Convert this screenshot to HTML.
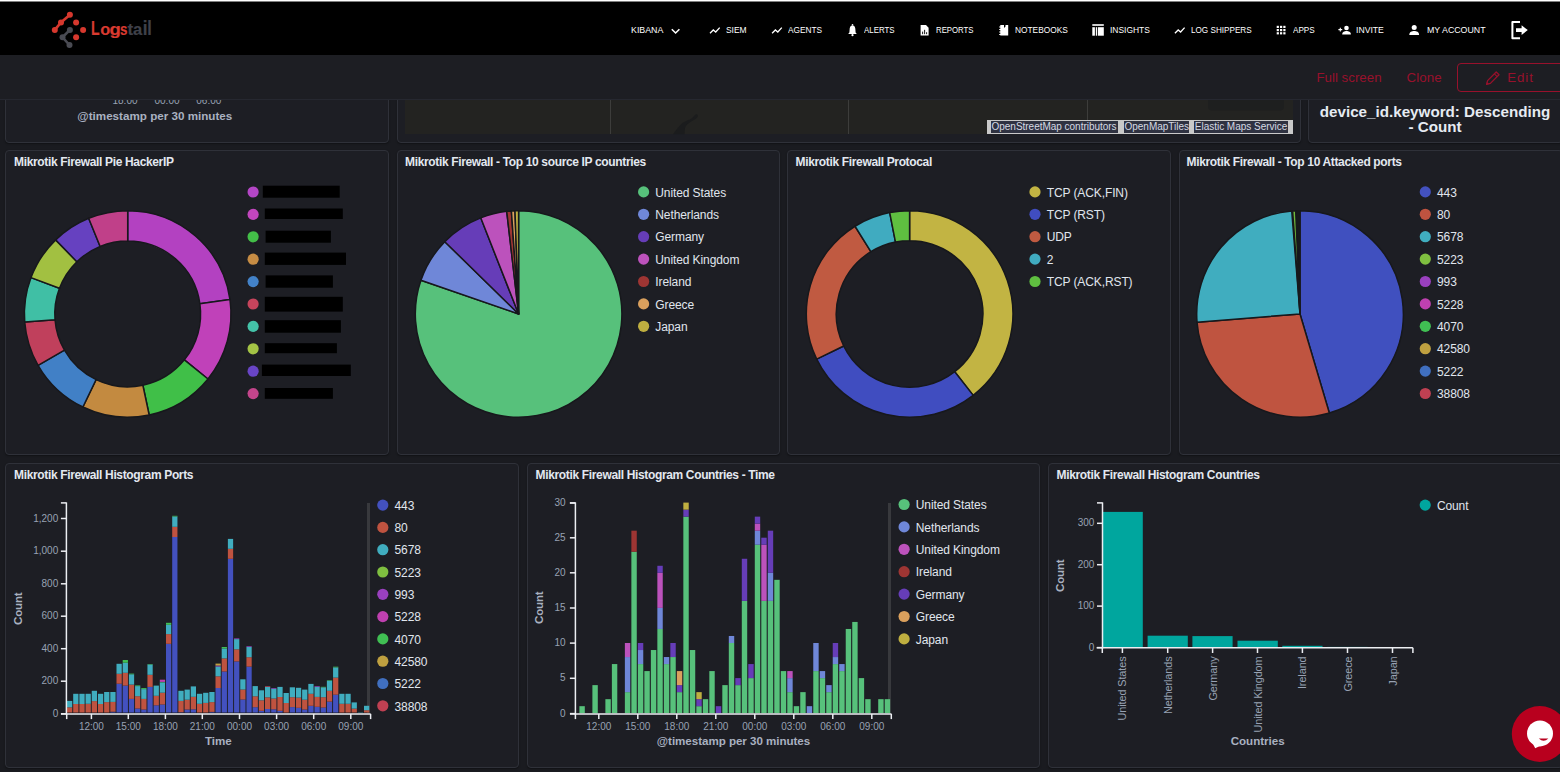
<!DOCTYPE html><html><head><meta charset="utf-8"><style>
html,body{margin:0;padding:0;}
body{width:1560px;height:772px;overflow:hidden;position:relative;background:#1a1b20;font-family:"Liberation Sans", sans-serif;}
.t{position:absolute;white-space:nowrap;}
.p{position:absolute;box-sizing:border-box;border:1px solid #2f3139;border-radius:4px;background:#1d1e24;box-shadow:0 1px 1.5px rgba(0,0,0,0.35);}
svg{position:absolute;left:0;top:0;}
</style></head><body>
<div class="p" style="left:5px;top:20px;width:384px;height:123px"></div>
<div class="p" style="left:397px;top:20px;width:904px;height:123px"></div>
<div class="p" style="left:1308px;top:20px;width:255px;height:123px"></div>
<div class="p" style="left:5px;top:150px;width:384px;height:305px"></div>
<div class="p" style="left:397px;top:150px;width:383px;height:305px"></div>
<div class="p" style="left:787px;top:150px;width:384px;height:305px"></div>
<div class="p" style="left:1179px;top:150px;width:384px;height:305px"></div>
<div class="p" style="left:5px;top:463px;width:514px;height:305px"></div>
<div class="p" style="left:527px;top:463px;width:513px;height:305px"></div>
<div class="p" style="left:1048px;top:463px;width:515px;height:305px"></div>
<div style="position:absolute;left:405px;top:95px;width:888px;height:39px;background:#232321;"></div>
<svg width="1560" height="772" style="pointer-events:none">
<line x1="610.5" y1="95" x2="610.5" y2="134" stroke="#3d3d3b" stroke-width="1"/>
<line x1="848.5" y1="95" x2="848.5" y2="134" stroke="#3d3d3b" stroke-width="1"/>
<line x1="1087.5" y1="95" x2="1087.5" y2="134" stroke="#3d3d3b" stroke-width="1"/>
<path d="M673 134.3 C676 130 679 126 682 123.5 C684 121.5 687 120.5 690 119.5 C692 118.5 694 116 695.5 114.5 C697.5 113.5 698.5 115.5 697.5 117 C696 119 693 120.5 690.5 122 C688 123.5 686 125 685 128 L684.5 134.3 Z" fill="#1b1c1d"/>
<rect x="1208" y="95" width="76" height="15.5" rx="4" fill="#1e1f1f"/>
</svg>
<div style="position:absolute;left:987px;top:119.5px;width:306px;height:14.5px;background:#c9c9c9;"></div>
<div style="position:absolute;left:991px;top:121.2px;width:127.0px;height:11.5px;background:#2f3241;"></div>
<div class="t" style="left:991.50px;top:122.13px;font-size:10px;line-height:10px;font-weight:400;color:#d5d9e3;letter-spacing:-0.02px;">OpenStreetMap contributors</div>
<div style="position:absolute;left:1124px;top:121.2px;width:65.0px;height:11.5px;background:#2f3241;"></div>
<div class="t" style="left:1124.50px;top:122.13px;font-size:10px;line-height:10px;font-weight:400;color:#d5d9e3;letter-spacing:-0.02px;">OpenMapTiles</div>
<div style="position:absolute;left:1194.3px;top:121.2px;width:93.7px;height:11.5px;background:#2f3241;"></div>
<div class="t" style="left:1194.80px;top:122.13px;font-size:10px;line-height:10px;font-weight:400;color:#d5d9e3;letter-spacing:-0.02px;">Elastic Maps Service</div>
<div class="t" style="left:-175.00px;width:600px;text-align:center;top:95.73px;font-size:10px;line-height:10px;font-weight:400;color:#98a2b3;letter-spacing:0px;">18:00</div>
<div class="t" style="left:-133.00px;width:600px;text-align:center;top:95.73px;font-size:10px;line-height:10px;font-weight:400;color:#98a2b3;letter-spacing:0px;">00:00</div>
<div class="t" style="left:-91.20px;width:600px;text-align:center;top:95.73px;font-size:10px;line-height:10px;font-weight:400;color:#98a2b3;letter-spacing:0px;">06:00</div>
<div class="t" style="left:-145.20px;width:600px;text-align:center;top:110.44px;font-size:11.65px;line-height:11.65px;font-weight:700;color:#a9b1c0;letter-spacing:0px;">@timestamp per 30 minutes</div>
<div class="t" style="left:1135.00px;width:600px;text-align:center;top:104.33px;font-size:15.2px;line-height:15.2px;font-weight:700;color:#e6ebf2;letter-spacing:0px;">device_id.keyword: Descending</div>
<div class="t" style="left:1135.00px;width:600px;text-align:center;top:118.53px;font-size:15.2px;line-height:15.2px;font-weight:700;color:#e6ebf2;letter-spacing:0px;">- Count</div>
<div style="position:absolute;left:0;top:0;width:1560px;height:55px;background:#000;"></div>
<div style="position:absolute;left:0;top:0;width:1560px;height:1px;background:#fff;"></div>
<div style="position:absolute;left:0;top:1px;width:1560px;height:1px;background:#808080;"></div>
<div style="position:absolute;left:0;top:55px;width:1560px;height:44px;background:#1d1e23;border-bottom:1.5px solid #262830;"></div>
<svg width="1560" height="60">
<path d="M69.9 14.8 L61 22.5 L54.8 29.9" stroke="#d6382e" stroke-width="2.6" fill="none" stroke-linecap="round"/>
<path d="M69.9 29.9 L62.5 37.3 L69.5 45" stroke="#4a4b53" stroke-width="2.6" fill="none" stroke-linecap="round"/>
<circle cx="69.9" cy="14.8" r="3.0" fill="#d6382e"/>
<circle cx="61" cy="22.5" r="3.0" fill="#d6382e"/>
<circle cx="54.8" cy="29.9" r="3.0" fill="#d6382e"/>
<circle cx="76.1" cy="22.5" r="3.0" fill="#d6382e"/>
<circle cx="83.1" cy="29.9" r="3.0" fill="#d6382e"/>
<circle cx="76.1" cy="37.3" r="3.0" fill="#d6382e"/>
<circle cx="69.9" cy="29.9" r="3.0" fill="#4a4b53"/>
<circle cx="62.5" cy="37.3" r="3.0" fill="#4a4b53"/>
<circle cx="69.5" cy="45" r="3.0" fill="#4a4b53"/>
<text transform="translate(90.97,35) scale(0.76,1.05)" font-family="Liberation Sans" font-weight="700" font-size="18.5" fill="#d93a30" stroke="#d93a30" stroke-width="0.2">L</text>
<text transform="translate(100.27,35) scale(0.88,0.855)" font-family="Liberation Sans" font-weight="700" font-size="18.5" fill="#d93a30" stroke="#d93a30" stroke-width="0.2">o</text>
<text transform="translate(109.58,35) scale(1.0,0.93)" font-family="Liberation Sans" font-weight="700" font-size="18.5" fill="#d93a30" stroke="#d93a30" stroke-width="0.2">g</text>
<text transform="translate(120.08,35) scale(0.72,0.855)" font-family="Liberation Sans" font-weight="700" font-size="18.5" fill="#d93a30" stroke="#d93a30" stroke-width="0.2">s</text>
<text transform="translate(127.52,35) scale(0.92,0.925)" font-family="Liberation Sans" font-weight="700" font-size="18.5" fill="#3f414a" stroke="#3f414a" stroke-width="0.2">t</text>
<text transform="translate(133.04,35) scale(0.9,0.855)" font-family="Liberation Sans" font-weight="700" font-size="18.5" fill="#3f414a" stroke="#3f414a" stroke-width="0.2">a</text>
<text transform="translate(142.75,35) scale(0.93,1.05)" font-family="Liberation Sans" font-weight="700" font-size="18.5" fill="#3f414a" stroke="#3f414a" stroke-width="0.2">i</text>
<text transform="translate(147.21,35) scale(0.89,1.05)" font-family="Liberation Sans" font-weight="700" font-size="18.5" fill="#3f414a" stroke="#3f414a" stroke-width="0.2">l</text>
</svg>
<div class="t" style="left:630.90px;top:25.78px;font-size:9px;line-height:9px;font-weight:400;color:#ffffff;letter-spacing:0px;transform:scaleX(0.9788);transform-origin:0 0;">KIBANA</div>
<div class="t" style="left:726.10px;top:25.78px;font-size:9px;line-height:9px;font-weight:400;color:#ffffff;letter-spacing:0px;transform:scaleX(0.9364);transform-origin:0 0;">SIEM</div>
<div class="t" style="left:788.10px;top:25.78px;font-size:9px;line-height:9px;font-weight:400;color:#ffffff;letter-spacing:0px;transform:scaleX(0.9216);transform-origin:0 0;">AGENTS</div>
<div class="t" style="left:863.70px;top:25.78px;font-size:9px;line-height:9px;font-weight:400;color:#ffffff;letter-spacing:0px;transform:scaleX(0.8768);transform-origin:0 0;">ALERTS</div>
<div class="t" style="left:935.80px;top:25.78px;font-size:9px;line-height:9px;font-weight:400;color:#ffffff;letter-spacing:0px;transform:scaleX(0.8661);transform-origin:0 0;">REPORTS</div>
<div class="t" style="left:1014.90px;top:25.78px;font-size:9px;line-height:9px;font-weight:400;color:#ffffff;letter-spacing:0px;transform:scaleX(0.9263);transform-origin:0 0;">NOTEBOOKS</div>
<div class="t" style="left:1109.70px;top:25.78px;font-size:9px;line-height:9px;font-weight:400;color:#ffffff;letter-spacing:0px;transform:scaleX(0.9365);transform-origin:0 0;">INSIGHTS</div>
<div class="t" style="left:1190.90px;top:25.78px;font-size:9px;line-height:9px;font-weight:400;color:#ffffff;letter-spacing:0px;transform:scaleX(0.9045);transform-origin:0 0;">LOG SHIPPERS</div>
<div class="t" style="left:1292.60px;top:25.78px;font-size:9px;line-height:9px;font-weight:400;color:#ffffff;letter-spacing:0px;transform:scaleX(0.9042);transform-origin:0 0;">APPS</div>
<div class="t" style="left:1355.70px;top:25.78px;font-size:9px;line-height:9px;font-weight:400;color:#ffffff;letter-spacing:0px;transform:scaleX(0.9586);transform-origin:0 0;">INVITE</div>
<div class="t" style="left:1426.70px;top:25.78px;font-size:9px;line-height:9px;font-weight:400;color:#ffffff;letter-spacing:0px;transform:scaleX(0.9783);transform-origin:0 0;">MY ACCOUNT</div>
<svg width="1560" height="60">
<polyline points="671.8,29.3 675.6,33 679.4,29.3" stroke="#ffffff" stroke-width="1.6" fill="none"/>
<polyline points="710.0,33.3 713.3000000000001,30 715.7,32 719.7,27.6" stroke="#ffffff" stroke-width="1.3" fill="none" stroke-linejoin="miter"/>
<polyline points="772.0999999999999,33.3 775.4,30 777.8,32 781.8,27.6" stroke="#ffffff" stroke-width="1.3" fill="none" stroke-linejoin="miter"/>
<polyline points="1174.8999999999999,33.3 1178.1999999999998,30 1180.6,32 1184.6,27.6" stroke="#ffffff" stroke-width="1.3" fill="none" stroke-linejoin="miter"/>
<path d="M852.5 25.3 C850.3 25.5 849.6 27.6 849.6 29.8 L849.4 32.6 L848.2 34 L856.8 34 L855.6 32.6 L855.4 29.8 C855.4 27.6 854.7 25.5 852.5 25.3 Z" fill="#ffffff"/>
<circle cx="852.5" cy="35.2" r="1.1" fill="#ffffff"/>
<circle cx="852.5" cy="24.8" r="0.8" fill="#ffffff"/>
<path d="M920.6 25 L926 25 L928.6 27.8 L928.6 35.6 L920.6 35.6 Z" fill="#ffffff"/>
<rect x="922.2" y="31.6" width="0.9" height="2.6" fill="#000"/><rect x="924.2" y="29.8" width="0.9" height="4.4" fill="#000"/><rect x="926.2" y="32.2" width="0.9" height="2" fill="#000"/>
<path d="M1000.3 25 L1004 25 L1004 28 L1005.5 26.5 L1005.5 25 L1008.2 25 L1008.2 35.6 L1000.3 35.6 Z" fill="#ffffff"/>
<rect x="999.2" y="26.5" width="2" height="1" fill="#ffffff"/>
<rect x="999.2" y="29" width="2" height="1" fill="#ffffff"/>
<rect x="999.2" y="31.5" width="2" height="1" fill="#ffffff"/>
<rect x="999.2" y="34" width="2" height="1" fill="#ffffff"/>
<rect x="1092.3" y="24.2" width="11.5" height="1.6" fill="#ffffff"/>
<rect x="1092.3" y="27.2" width="2.6" height="8.5" fill="#ffffff"/>
<rect x="1095.8" y="27.2" width="1.2" height="8.5" fill="#ffffff"/>
<rect x="1097.8" y="27.2" width="6" height="8.5" fill="#ffffff"/>
<rect x="1276.70" y="25.80" width="2.2" height="2.2" fill="#ffffff"/>
<rect x="1276.70" y="29.00" width="2.2" height="2.2" fill="#ffffff"/>
<rect x="1276.70" y="32.20" width="2.2" height="2.2" fill="#ffffff"/>
<rect x="1280.00" y="25.80" width="2.2" height="2.2" fill="#ffffff"/>
<rect x="1280.00" y="29.00" width="2.2" height="2.2" fill="#ffffff"/>
<rect x="1280.00" y="32.20" width="2.2" height="2.2" fill="#ffffff"/>
<rect x="1283.30" y="25.80" width="2.2" height="2.2" fill="#ffffff"/>
<rect x="1283.30" y="29.00" width="2.2" height="2.2" fill="#ffffff"/>
<rect x="1283.30" y="32.20" width="2.2" height="2.2" fill="#ffffff"/>
<path d="M1338.4 29.6 H1342.2 M1340.3 27.7 V31.5" stroke="#ffffff" stroke-width="1.1"/>
<circle cx="1346.5" cy="28" r="2.3" fill="#ffffff"/>
<path d="M1342.2 34.4 C1342.2 31.8 1344.5 31 1346.5 31 C1348.5 31 1350.9 31.8 1350.9 34.4 Z" fill="#ffffff"/>
<circle cx="1414.2" cy="27.6" r="2.5" fill="#ffffff"/>
<path d="M1409.3 34.9 C1409.3 31.9 1411.9 31 1414.2 31 C1416.5 31 1419.1 31.9 1419.1 34.9 Z" fill="#ffffff"/>
<path d="M1520 22 L1512.4 22 L1512.4 38.2 L1520 38.2" stroke="#ffffff" stroke-width="2" fill="none" stroke-linejoin="round"/>
<path d="M1516 28.3 L1521.6 28.3 L1521.6 25.3 L1527.8 30.1 L1521.6 34.9 L1521.6 31.9 L1516 31.9 Z" fill="#ffffff"/>
</svg>
<div class="t" style="left:1316.50px;top:71.34px;font-size:13.3px;line-height:13.3px;font-weight:400;color:#98112c;letter-spacing:0px;">Full screen</div>
<div class="t" style="left:1406.50px;top:71.34px;font-size:13.3px;line-height:13.3px;font-weight:400;color:#98112c;letter-spacing:0.1px;">Clone</div>
<div style="position:absolute;left:1457px;top:62.5px;width:130px;height:29px;box-sizing:border-box;border:1px solid #98112c;border-radius:4px;"></div>
<div class="t" style="left:1507.30px;top:71.34px;font-size:13.3px;line-height:13.3px;font-weight:400;color:#98112c;letter-spacing:0.9px;">Edit</div>
<svg width="1560" height="100">
<path d="M1487.6 80.6 L1496.2 72 L1499 74.8 L1490.4 83.4 L1486.6 84.4 Z" stroke="#98112c" stroke-width="1.3" fill="none" stroke-linejoin="round"/>
<line x1="1494.4" y1="73.8" x2="1497.2" y2="76.6" stroke="#98112c" stroke-width="1.1"/>
<path d="M1486.2 84.8 L1486.9 82 L1489 84.1 Z" fill="#98112c"/>
</svg>
<div class="t" style="left:14.00px;top:155.74px;font-size:12px;line-height:12px;font-weight:700;color:#e3e8f0;letter-spacing:-0.35px;">Mikrotik Firewall Pie HackerIP</div>
<div class="t" style="left:405.00px;top:155.74px;font-size:12px;line-height:12px;font-weight:700;color:#e3e8f0;letter-spacing:-0.35px;">Mikrotik Firewall - Top 10 source IP countries</div>
<div class="t" style="left:795.60px;top:155.74px;font-size:12px;line-height:12px;font-weight:700;color:#e3e8f0;letter-spacing:-0.35px;">Mikrotik Firewall Protocal</div>
<div class="t" style="left:1186.60px;top:155.74px;font-size:12px;line-height:12px;font-weight:700;color:#e3e8f0;letter-spacing:-0.35px;">Mikrotik Firewall - Top 10 Attacked ports</div>
<div class="t" style="left:14.00px;top:468.54px;font-size:12px;line-height:12px;font-weight:700;color:#e3e8f0;letter-spacing:-0.35px;">Mikrotik Firewall Histogram Ports</div>
<div class="t" style="left:535.60px;top:468.54px;font-size:12px;line-height:12px;font-weight:700;color:#e3e8f0;letter-spacing:-0.35px;">Mikrotik Firewall Histogram Countries - Time</div>
<div class="t" style="left:1056.60px;top:468.54px;font-size:12px;line-height:12px;font-weight:700;color:#e3e8f0;letter-spacing:-0.35px;">Mikrotik Firewall Histogram Countries</div>
<svg width="1560" height="772">
<path d="M127.70 241.05 L127.70 210.65 A103.3 103.3 0 0 1 229.99 299.57 L199.89 303.80 A72.9 72.9 0 0 0 127.70 241.05 Z" fill="#b341c1" stroke="#17181c" stroke-width="1.5" stroke-linejoin="round"/>
<path d="M199.89 303.80 L229.99 299.57 A103.3 103.3 0 0 1 207.98 378.96 L184.35 359.83 A72.9 72.9 0 0 0 199.89 303.80 Z" fill="#c041b9" stroke="#17181c" stroke-width="1.5" stroke-linejoin="round"/>
<path d="M184.35 359.83 L207.98 378.96 A103.3 103.3 0 0 1 149.18 414.99 L142.86 385.26 A72.9 72.9 0 0 0 184.35 359.83 Z" fill="#40bf48" stroke="#17181c" stroke-width="1.5" stroke-linejoin="round"/>
<path d="M142.86 385.26 L149.18 414.99 A103.3 103.3 0 0 1 82.90 407.03 L96.09 379.64 A72.9 72.9 0 0 0 142.86 385.26 Z" fill="#c38a40" stroke="#17181c" stroke-width="1.5" stroke-linejoin="round"/>
<path d="M96.09 379.64 L82.90 407.03 A103.3 103.3 0 0 1 38.06 365.29 L64.44 350.18 A72.9 72.9 0 0 0 96.09 379.64 Z" fill="#4180c6" stroke="#17181c" stroke-width="1.5" stroke-linejoin="round"/>
<path d="M64.44 350.18 L38.06 365.29 A103.3 103.3 0 0 1 24.72 322.05 L55.02 319.67 A72.9 72.9 0 0 0 64.44 350.18 Z" fill="#c0405c" stroke="#17181c" stroke-width="1.5" stroke-linejoin="round"/>
<path d="M55.02 319.67 L24.72 322.05 A103.3 103.3 0 0 1 31.01 277.60 L59.46 288.30 A72.9 72.9 0 0 0 55.02 319.67 Z" fill="#40bfa5" stroke="#17181c" stroke-width="1.5" stroke-linejoin="round"/>
<path d="M59.46 288.30 L31.01 277.60 A103.3 103.3 0 0 1 55.68 239.89 L76.88 261.69 A72.9 72.9 0 0 0 59.46 288.30 Z" fill="#a2c041" stroke="#17181c" stroke-width="1.5" stroke-linejoin="round"/>
<path d="M76.88 261.69 L55.68 239.89 A103.3 103.3 0 0 1 88.67 218.31 L100.16 246.45 A72.9 72.9 0 0 0 76.88 261.69 Z" fill="#6641c0" stroke="#17181c" stroke-width="1.5" stroke-linejoin="round"/>
<path d="M100.16 246.45 L88.67 218.31 A103.3 103.3 0 0 1 127.70 210.65 L127.70 241.05 A72.9 72.9 0 0 0 100.16 246.45 Z" fill="#c04089" stroke="#17181c" stroke-width="1.5" stroke-linejoin="round"/>
</svg>
<svg width="1560" height="772">
<circle cx="253.1" cy="192.00" r="5.6" fill="#b446c6"/>
<circle cx="253.1" cy="214.40" r="5.6" fill="#c246be"/>
<circle cx="253.1" cy="236.80" r="5.6" fill="#43be48"/>
<circle cx="253.1" cy="259.20" r="5.6" fill="#c68c44"/>
<circle cx="253.1" cy="281.60" r="5.6" fill="#4382c8"/>
<circle cx="253.1" cy="304.00" r="5.6" fill="#c6445c"/>
<circle cx="253.1" cy="326.40" r="5.6" fill="#44c3a9"/>
<circle cx="253.1" cy="348.80" r="5.6" fill="#a3c345"/>
<circle cx="253.1" cy="371.20" r="5.6" fill="#6945c6"/>
<circle cx="253.1" cy="393.60" r="5.6" fill="#c4458c"/>
</svg>
<svg width="1560" height="772">
<rect x="262.8" y="185.7" width="76.9" height="12.0" fill="#000"/>
<rect x="264.8" y="208.5" width="78.0" height="10.5" fill="#000"/>
<rect x="265.6" y="230.7" width="65.3" height="12.0" fill="#000"/>
<rect x="264.8" y="252.6" width="81.2" height="12.3" fill="#000"/>
<rect x="265.6" y="275.4" width="67.3" height="12.3" fill="#000"/>
<rect x="264.8" y="296.8" width="78.0" height="14.8" fill="#000"/>
<rect x="264.8" y="320.2" width="76.1" height="12.5" fill="#000"/>
<rect x="264.8" y="343.2" width="72.1" height="10.0" fill="#000"/>
<rect x="261.9" y="364.6" width="88.9" height="11.4" fill="#000"/>
<rect x="264.8" y="388" width="68.1" height="10.8" fill="#000"/>
</svg>
<svg width="1560" height="772">
<path d="M518.60 313.95 L518.60 210.65 A103.3 103.3 0 1 1 420.93 280.32 Z" fill="#57c17b" stroke="#17181c" stroke-width="1.5" stroke-linejoin="round"/>
<path d="M518.60 313.95 L420.93 280.32 A103.3 103.3 0 0 1 444.79 241.67 Z" fill="#6f87d8" stroke="#17181c" stroke-width="1.5" stroke-linejoin="round"/>
<path d="M518.60 313.95 L444.79 241.67 A103.3 103.3 0 0 1 480.74 217.84 Z" fill="#663db8" stroke="#17181c" stroke-width="1.5" stroke-linejoin="round"/>
<path d="M518.60 313.95 L480.74 217.84 A103.3 103.3 0 0 1 506.73 211.33 Z" fill="#bc52bc" stroke="#17181c" stroke-width="1.5" stroke-linejoin="round"/>
<path d="M518.60 313.95 L506.73 211.33 A103.3 103.3 0 0 1 511.39 210.90 Z" fill="#9e3533" stroke="#17181c" stroke-width="1.5" stroke-linejoin="round"/>
<path d="M518.60 313.95 L511.39 210.90 A103.3 103.3 0 0 1 514.99 210.71 Z" fill="#daa05d" stroke="#17181c" stroke-width="1.5" stroke-linejoin="round"/>
<path d="M518.60 313.95 L514.99 210.71 A103.3 103.3 0 0 1 518.60 210.65 Z" fill="#bfaf40" stroke="#17181c" stroke-width="1.5" stroke-linejoin="round"/>
</svg>
<svg width="1560" height="772">
<circle cx="643.6" cy="191.90" r="5.6" fill="#57c17b"/>
<circle cx="643.6" cy="214.30" r="5.6" fill="#6f87d8"/>
<circle cx="643.6" cy="236.70" r="5.6" fill="#663db8"/>
<circle cx="643.6" cy="259.10" r="5.6" fill="#bc52bc"/>
<circle cx="643.6" cy="281.50" r="5.6" fill="#9e3533"/>
<circle cx="643.6" cy="303.90" r="5.6" fill="#daa05d"/>
<circle cx="643.6" cy="326.30" r="5.6" fill="#bfaf40"/>
</svg>
<div class="t" style="left:655.30px;top:186.64px;font-size:12px;line-height:12px;font-weight:400;color:#e0e6ee;letter-spacing:-0.1px;">United States</div>
<div class="t" style="left:655.30px;top:209.04px;font-size:12px;line-height:12px;font-weight:400;color:#e0e6ee;letter-spacing:-0.1px;">Netherlands</div>
<div class="t" style="left:655.30px;top:231.44px;font-size:12px;line-height:12px;font-weight:400;color:#e0e6ee;letter-spacing:-0.1px;">Germany</div>
<div class="t" style="left:655.30px;top:253.84px;font-size:12px;line-height:12px;font-weight:400;color:#e0e6ee;letter-spacing:-0.1px;">United Kingdom</div>
<div class="t" style="left:655.30px;top:276.24px;font-size:12px;line-height:12px;font-weight:400;color:#e0e6ee;letter-spacing:-0.1px;">Ireland</div>
<div class="t" style="left:655.30px;top:298.64px;font-size:12px;line-height:12px;font-weight:400;color:#e0e6ee;letter-spacing:-0.1px;">Greece</div>
<div class="t" style="left:655.30px;top:321.04px;font-size:12px;line-height:12px;font-weight:400;color:#e0e6ee;letter-spacing:-0.1px;">Japan</div>
<svg width="1560" height="772">
<path d="M909.60 240.65 L909.60 210.65 A103.3 103.3 0 0 1 973.20 395.35 L954.73 371.71 A73.3 73.3 0 0 0 909.60 240.65 Z" fill="#c2b443" stroke="#17181c" stroke-width="1.5" stroke-linejoin="round"/>
<path d="M954.73 371.71 L973.20 395.35 A103.3 103.3 0 0 1 816.68 359.07 L843.66 345.97 A73.3 73.3 0 0 0 954.73 371.71 Z" fill="#404dc0" stroke="#17181c" stroke-width="1.5" stroke-linejoin="round"/>
<path d="M843.66 345.97 L816.68 359.07 A103.3 103.3 0 0 1 855.01 226.25 L870.87 251.72 A73.3 73.3 0 0 0 843.66 345.97 Z" fill="#c05a41" stroke="#17181c" stroke-width="1.5" stroke-linejoin="round"/>
<path d="M870.87 251.72 L855.01 226.25 A103.3 103.3 0 0 1 889.71 212.58 L895.49 242.02 A73.3 73.3 0 0 0 870.87 251.72 Z" fill="#40abc0" stroke="#17181c" stroke-width="1.5" stroke-linejoin="round"/>
<path d="M895.49 242.02 L889.71 212.58 A103.3 103.3 0 0 1 909.60 210.65 L909.60 240.65 A73.3 73.3 0 0 0 895.49 242.02 Z" fill="#5fbf40" stroke="#17181c" stroke-width="1.5" stroke-linejoin="round"/>
</svg>
<svg width="1560" height="772">
<circle cx="1035" cy="191.90" r="5.6" fill="#c2b443"/>
<circle cx="1035" cy="214.30" r="5.6" fill="#404dc0"/>
<circle cx="1035" cy="236.70" r="5.6" fill="#c05a41"/>
<circle cx="1035" cy="259.10" r="5.6" fill="#40abc0"/>
<circle cx="1035" cy="281.50" r="5.6" fill="#5fbf40"/>
</svg>
<div class="t" style="left:1046.70px;top:186.64px;font-size:12px;line-height:12px;font-weight:400;color:#e0e6ee;letter-spacing:-0.1px;">TCP (ACK,FIN)</div>
<div class="t" style="left:1046.70px;top:209.04px;font-size:12px;line-height:12px;font-weight:400;color:#e0e6ee;letter-spacing:-0.1px;">TCP (RST)</div>
<div class="t" style="left:1046.70px;top:231.44px;font-size:12px;line-height:12px;font-weight:400;color:#e0e6ee;letter-spacing:-0.1px;">UDP</div>
<div class="t" style="left:1046.70px;top:253.84px;font-size:12px;line-height:12px;font-weight:400;color:#e0e6ee;letter-spacing:-0.1px;">2</div>
<div class="t" style="left:1046.70px;top:276.24px;font-size:12px;line-height:12px;font-weight:400;color:#e0e6ee;letter-spacing:-0.1px;">TCP (ACK,RST)</div>
<svg width="1560" height="772">
<path d="M1300.00 313.95 L1300.00 210.65 A103.3 103.3 0 0 1 1329.34 413.00 Z" fill="#4050bf" stroke="#17181c" stroke-width="1.5" stroke-linejoin="round"/>
<path d="M1300.00 313.95 L1329.34 413.00 A103.3 103.3 0 0 1 1197.03 322.23 Z" fill="#bf5440" stroke="#17181c" stroke-width="1.5" stroke-linejoin="round"/>
<path d="M1300.00 313.95 L1197.03 322.23 A103.3 103.3 0 0 1 1291.72 210.98 Z" fill="#40adbf" stroke="#17181c" stroke-width="1.5" stroke-linejoin="round"/>
<path d="M1300.00 313.95 L1295.13 210.76 A103.3 103.3 0 0 1 1300.00 210.65 Z" fill="#17181c" stroke="#17181c" stroke-width="1.5" stroke-linejoin="round"/>
<path d="M1300.00 313.95 L1292.61 210.91 A103.3 103.3 0 0 1 1295.67 210.74 Z" fill="#6fb83c" stroke="#17181c" stroke-width="1.5" stroke-linejoin="round"/>
</svg>
<svg width="1560" height="772">
<circle cx="1425.3" cy="191.90" r="5.6" fill="#4351bf"/>
<circle cx="1425.3" cy="214.30" r="5.6" fill="#bf5340"/>
<circle cx="1425.3" cy="236.70" r="5.6" fill="#40adbf"/>
<circle cx="1425.3" cy="259.10" r="5.6" fill="#7fbf40"/>
<circle cx="1425.3" cy="281.50" r="5.6" fill="#9a40bf"/>
<circle cx="1425.3" cy="303.90" r="5.6" fill="#bf40b0"/>
<circle cx="1425.3" cy="326.30" r="5.6" fill="#40bf53"/>
<circle cx="1425.3" cy="348.70" r="5.6" fill="#bfa040"/>
<circle cx="1425.3" cy="371.10" r="5.6" fill="#406fbf"/>
<circle cx="1425.3" cy="393.50" r="5.6" fill="#bf4052"/>
</svg>
<div class="t" style="left:1437.00px;top:186.64px;font-size:12px;line-height:12px;font-weight:400;color:#e0e6ee;letter-spacing:-0.1px;">443</div>
<div class="t" style="left:1437.00px;top:209.04px;font-size:12px;line-height:12px;font-weight:400;color:#e0e6ee;letter-spacing:-0.1px;">80</div>
<div class="t" style="left:1437.00px;top:231.44px;font-size:12px;line-height:12px;font-weight:400;color:#e0e6ee;letter-spacing:-0.1px;">5678</div>
<div class="t" style="left:1437.00px;top:253.84px;font-size:12px;line-height:12px;font-weight:400;color:#e0e6ee;letter-spacing:-0.1px;">5223</div>
<div class="t" style="left:1437.00px;top:276.24px;font-size:12px;line-height:12px;font-weight:400;color:#e0e6ee;letter-spacing:-0.1px;">993</div>
<div class="t" style="left:1437.00px;top:298.64px;font-size:12px;line-height:12px;font-weight:400;color:#e0e6ee;letter-spacing:-0.1px;">5228</div>
<div class="t" style="left:1437.00px;top:321.04px;font-size:12px;line-height:12px;font-weight:400;color:#e0e6ee;letter-spacing:-0.1px;">4070</div>
<div class="t" style="left:1437.00px;top:343.44px;font-size:12px;line-height:12px;font-weight:400;color:#e0e6ee;letter-spacing:-0.1px;">42580</div>
<div class="t" style="left:1437.00px;top:365.84px;font-size:12px;line-height:12px;font-weight:400;color:#e0e6ee;letter-spacing:-0.1px;">5222</div>
<div class="t" style="left:1437.00px;top:388.24px;font-size:12px;line-height:12px;font-weight:400;color:#e0e6ee;letter-spacing:-0.1px;">38808</div>
<div style="position:absolute;left:366.6px;top:502.8px;width:3.3px;height:210.5px;background:#38393d;"></div>
<svg width="1560" height="772">
<rect x="67.00" y="707.30" width="5.25" height="5.20" fill="#bf5340"/>
<rect x="67.00" y="700.90" width="5.25" height="6.40" fill="#40adbf"/>
<rect x="73.19" y="704.00" width="5.25" height="8.50" fill="#bf5340"/>
<rect x="73.19" y="693.80" width="5.25" height="10.20" fill="#40adbf"/>
<rect x="79.38" y="704.00" width="5.25" height="8.50" fill="#bf5340"/>
<rect x="79.38" y="693.80" width="5.25" height="10.20" fill="#40adbf"/>
<rect x="85.56" y="703.80" width="5.25" height="8.70" fill="#bf5340"/>
<rect x="85.56" y="693.80" width="5.25" height="10.00" fill="#40adbf"/>
<rect x="91.75" y="701.10" width="5.25" height="11.40" fill="#bf5340"/>
<rect x="91.75" y="690.80" width="5.25" height="10.30" fill="#40adbf"/>
<rect x="97.94" y="704.00" width="5.25" height="8.50" fill="#bf5340"/>
<rect x="97.94" y="693.80" width="5.25" height="10.20" fill="#40adbf"/>
<rect x="104.12" y="702.10" width="5.25" height="10.40" fill="#bf5340"/>
<rect x="104.12" y="692.00" width="5.25" height="10.10" fill="#40adbf"/>
<rect x="110.31" y="711.70" width="5.25" height="0.80" fill="#4351bf"/>
<rect x="110.31" y="701.90" width="5.25" height="9.80" fill="#bf5340"/>
<rect x="110.31" y="692.00" width="5.25" height="9.90" fill="#40adbf"/>
<rect x="116.50" y="683.70" width="5.25" height="28.80" fill="#4351bf"/>
<rect x="116.50" y="673.80" width="5.25" height="9.90" fill="#bf5340"/>
<rect x="116.50" y="663.80" width="5.25" height="10.00" fill="#40adbf"/>
<rect x="122.69" y="685.60" width="5.25" height="26.90" fill="#4351bf"/>
<rect x="122.69" y="672.80" width="5.25" height="12.80" fill="#bf5340"/>
<rect x="122.69" y="662.70" width="5.25" height="10.10" fill="#40adbf"/>
<rect x="122.69" y="660.00" width="5.25" height="2.70" fill="#40bf55"/>
<rect x="128.88" y="698.90" width="5.25" height="13.60" fill="#4351bf"/>
<rect x="128.88" y="684.60" width="5.25" height="14.30" fill="#bf5340"/>
<rect x="128.88" y="674.30" width="5.25" height="10.30" fill="#40adbf"/>
<rect x="128.88" y="673.60" width="5.25" height="0.70" fill="#40bf55"/>
<rect x="135.06" y="708.50" width="5.25" height="4.00" fill="#4351bf"/>
<rect x="135.06" y="696.20" width="5.25" height="12.30" fill="#bf5340"/>
<rect x="135.06" y="686.10" width="5.25" height="10.10" fill="#40adbf"/>
<rect x="135.06" y="685.40" width="5.25" height="0.70" fill="#40bf55"/>
<rect x="141.25" y="709.50" width="5.25" height="3.00" fill="#4351bf"/>
<rect x="141.25" y="698.90" width="5.25" height="10.60" fill="#bf5340"/>
<rect x="141.25" y="689.10" width="5.25" height="9.80" fill="#40adbf"/>
<rect x="141.25" y="688.10" width="5.25" height="1.00" fill="#40bf55"/>
<rect x="147.44" y="686.90" width="5.25" height="25.60" fill="#4351bf"/>
<rect x="147.44" y="674.80" width="5.25" height="12.10" fill="#bf5340"/>
<rect x="147.44" y="664.50" width="5.25" height="10.30" fill="#40adbf"/>
<rect x="147.44" y="664.00" width="5.25" height="0.50" fill="#40bf55"/>
<rect x="153.62" y="705.30" width="5.25" height="7.20" fill="#4351bf"/>
<rect x="153.62" y="695.80" width="5.25" height="9.50" fill="#bf5340"/>
<rect x="153.62" y="685.60" width="5.25" height="10.20" fill="#40adbf"/>
<rect x="159.81" y="704.50" width="5.25" height="8.00" fill="#4351bf"/>
<rect x="159.81" y="692.70" width="5.25" height="11.80" fill="#bf5340"/>
<rect x="159.81" y="682.40" width="5.25" height="10.30" fill="#40adbf"/>
<rect x="159.81" y="681.90" width="5.25" height="0.50" fill="#40bf55"/>
<rect x="159.81" y="679.70" width="5.25" height="2.20" fill="#bf40b0"/>
<rect x="166.00" y="643.80" width="5.25" height="68.70" fill="#4351bf"/>
<rect x="166.00" y="634.10" width="5.25" height="9.70" fill="#bf5340"/>
<rect x="166.00" y="624.80" width="5.25" height="9.30" fill="#40adbf"/>
<rect x="166.00" y="622.80" width="5.25" height="2.00" fill="#40bf55"/>
<rect x="172.19" y="537.00" width="5.25" height="175.50" fill="#4351bf"/>
<rect x="172.19" y="526.80" width="5.25" height="10.20" fill="#bf5340"/>
<rect x="172.19" y="516.50" width="5.25" height="10.30" fill="#40adbf"/>
<rect x="172.19" y="515.80" width="5.25" height="0.70" fill="#40bf55"/>
<rect x="178.38" y="712.20" width="5.25" height="0.30" fill="#4351bf"/>
<rect x="178.38" y="700.90" width="5.25" height="11.30" fill="#bf5340"/>
<rect x="178.38" y="690.80" width="5.25" height="10.10" fill="#40adbf"/>
<rect x="184.56" y="709.50" width="5.25" height="3.00" fill="#4351bf"/>
<rect x="184.56" y="699.70" width="5.25" height="9.80" fill="#bf5340"/>
<rect x="184.56" y="689.60" width="5.25" height="10.10" fill="#40adbf"/>
<rect x="190.75" y="709.30" width="5.25" height="3.20" fill="#4351bf"/>
<rect x="190.75" y="696.80" width="5.25" height="12.50" fill="#bf5340"/>
<rect x="190.75" y="686.40" width="5.25" height="10.40" fill="#40adbf"/>
<rect x="196.94" y="703.80" width="5.25" height="8.70" fill="#bf5340"/>
<rect x="196.94" y="693.80" width="5.25" height="10.00" fill="#40adbf"/>
<rect x="203.12" y="702.90" width="5.25" height="9.60" fill="#bf5340"/>
<rect x="203.12" y="692.80" width="5.25" height="10.10" fill="#40adbf"/>
<rect x="209.31" y="711.90" width="5.25" height="0.60" fill="#4351bf"/>
<rect x="209.31" y="702.10" width="5.25" height="9.80" fill="#bf5340"/>
<rect x="209.31" y="692.00" width="5.25" height="10.10" fill="#40adbf"/>
<rect x="215.50" y="688.00" width="5.25" height="24.50" fill="#4351bf"/>
<rect x="215.50" y="676.30" width="5.25" height="11.70" fill="#bf5340"/>
<rect x="215.50" y="666.50" width="5.25" height="9.80" fill="#40adbf"/>
<rect x="215.50" y="665.50" width="5.25" height="1.00" fill="#9a40bf"/>
<rect x="215.50" y="663.60" width="5.25" height="1.90" fill="#bfa040"/>
<rect x="221.69" y="671.50" width="5.25" height="41.00" fill="#4351bf"/>
<rect x="221.69" y="658.40" width="5.25" height="13.10" fill="#bf5340"/>
<rect x="221.69" y="648.50" width="5.25" height="9.90" fill="#40adbf"/>
<rect x="221.69" y="647.00" width="5.25" height="1.50" fill="#40bf55"/>
<rect x="227.88" y="558.80" width="5.25" height="153.70" fill="#4351bf"/>
<rect x="227.88" y="548.80" width="5.25" height="10.00" fill="#bf5340"/>
<rect x="227.88" y="538.90" width="5.25" height="9.90" fill="#40adbf"/>
<rect x="234.06" y="661.40" width="5.25" height="51.10" fill="#4351bf"/>
<rect x="234.06" y="649.30" width="5.25" height="12.10" fill="#bf5340"/>
<rect x="234.06" y="639.10" width="5.25" height="10.20" fill="#40adbf"/>
<rect x="234.06" y="638.40" width="5.25" height="0.70" fill="#9a40bf"/>
<rect x="240.25" y="699.50" width="5.25" height="13.00" fill="#4351bf"/>
<rect x="240.25" y="689.50" width="5.25" height="10.00" fill="#bf5340"/>
<rect x="240.25" y="679.30" width="5.25" height="10.20" fill="#40adbf"/>
<rect x="246.44" y="666.60" width="5.25" height="45.90" fill="#4351bf"/>
<rect x="246.44" y="657.20" width="5.25" height="9.40" fill="#bf5340"/>
<rect x="246.44" y="646.90" width="5.25" height="10.30" fill="#40adbf"/>
<rect x="246.44" y="646.20" width="5.25" height="0.70" fill="#9a40bf"/>
<rect x="252.62" y="707.20" width="5.25" height="5.30" fill="#4351bf"/>
<rect x="252.62" y="696.30" width="5.25" height="10.90" fill="#bf5340"/>
<rect x="252.62" y="686.10" width="5.25" height="10.20" fill="#40adbf"/>
<rect x="258.81" y="710.80" width="5.25" height="1.70" fill="#4351bf"/>
<rect x="258.81" y="700.30" width="5.25" height="10.50" fill="#bf5340"/>
<rect x="258.81" y="690.30" width="5.25" height="10.00" fill="#40adbf"/>
<rect x="265.00" y="709.00" width="5.25" height="3.50" fill="#4351bf"/>
<rect x="265.00" y="697.30" width="5.25" height="11.70" fill="#bf5340"/>
<rect x="265.00" y="686.90" width="5.25" height="10.40" fill="#40adbf"/>
<rect x="265.00" y="686.20" width="5.25" height="0.70" fill="#bf4052"/>
<rect x="271.19" y="709.30" width="5.25" height="3.20" fill="#4351bf"/>
<rect x="271.19" y="698.50" width="5.25" height="10.80" fill="#bf5340"/>
<rect x="271.19" y="688.70" width="5.25" height="9.80" fill="#40adbf"/>
<rect x="271.19" y="688.00" width="5.25" height="0.70" fill="#9a40bf"/>
<rect x="277.38" y="710.80" width="5.25" height="1.70" fill="#4351bf"/>
<rect x="277.38" y="697.00" width="5.25" height="13.80" fill="#bf5340"/>
<rect x="277.38" y="686.90" width="5.25" height="10.10" fill="#40adbf"/>
<rect x="283.56" y="703.00" width="5.25" height="9.50" fill="#bf5340"/>
<rect x="283.56" y="693.00" width="5.25" height="10.00" fill="#40adbf"/>
<rect x="289.75" y="707.10" width="5.25" height="5.40" fill="#4351bf"/>
<rect x="289.75" y="697.20" width="5.25" height="9.90" fill="#bf5340"/>
<rect x="289.75" y="687.30" width="5.25" height="9.90" fill="#40adbf"/>
<rect x="295.94" y="707.80" width="5.25" height="4.70" fill="#4351bf"/>
<rect x="295.94" y="697.60" width="5.25" height="10.20" fill="#bf5340"/>
<rect x="295.94" y="687.80" width="5.25" height="9.80" fill="#40adbf"/>
<rect x="302.12" y="709.50" width="5.25" height="3.00" fill="#4351bf"/>
<rect x="302.12" y="699.70" width="5.25" height="9.80" fill="#bf5340"/>
<rect x="302.12" y="689.60" width="5.25" height="10.10" fill="#40adbf"/>
<rect x="308.31" y="705.80" width="5.25" height="6.70" fill="#4351bf"/>
<rect x="308.31" y="693.80" width="5.25" height="12.00" fill="#bf5340"/>
<rect x="308.31" y="683.90" width="5.25" height="9.90" fill="#40adbf"/>
<rect x="314.50" y="706.80" width="5.25" height="5.70" fill="#4351bf"/>
<rect x="314.50" y="696.90" width="5.25" height="9.90" fill="#bf5340"/>
<rect x="314.50" y="686.80" width="5.25" height="10.10" fill="#40adbf"/>
<rect x="314.50" y="686.10" width="5.25" height="0.70" fill="#9a40bf"/>
<rect x="320.69" y="707.50" width="5.25" height="5.00" fill="#4351bf"/>
<rect x="320.69" y="697.20" width="5.25" height="10.30" fill="#bf5340"/>
<rect x="320.69" y="687.30" width="5.25" height="9.90" fill="#40adbf"/>
<rect x="320.69" y="686.80" width="5.25" height="0.50" fill="#40bf55"/>
<rect x="326.88" y="701.60" width="5.25" height="10.90" fill="#4351bf"/>
<rect x="326.88" y="690.80" width="5.25" height="10.80" fill="#bf5340"/>
<rect x="326.88" y="680.70" width="5.25" height="10.10" fill="#40adbf"/>
<rect x="326.88" y="680.20" width="5.25" height="0.50" fill="#40bf55"/>
<rect x="333.06" y="694.70" width="5.25" height="17.80" fill="#4351bf"/>
<rect x="333.06" y="677.60" width="5.25" height="17.10" fill="#bf5340"/>
<rect x="333.06" y="667.40" width="5.25" height="10.20" fill="#40adbf"/>
<rect x="333.06" y="666.70" width="5.25" height="0.70" fill="#40bf55"/>
<rect x="339.25" y="703.80" width="5.25" height="8.70" fill="#bf5340"/>
<rect x="339.25" y="693.80" width="5.25" height="10.00" fill="#40adbf"/>
<rect x="345.44" y="703.80" width="5.25" height="8.70" fill="#bf5340"/>
<rect x="345.44" y="693.80" width="5.25" height="10.00" fill="#40adbf"/>
<rect x="351.62" y="708.60" width="5.25" height="3.90" fill="#bf5340"/>
<rect x="351.62" y="702.40" width="5.25" height="6.20" fill="#40adbf"/>
<rect x="357.81" y="712.20" width="5.25" height="0.30" fill="#40adbf"/>
<rect x="364.00" y="710.20" width="5.25" height="2.30" fill="#bf5340"/>
<rect x="364.00" y="705.80" width="5.25" height="4.40" fill="#40adbf"/>
</svg>
<svg width="1560" height="772">
<line x1="66.4" y1="502.4" x2="66.4" y2="714.5" stroke="#eceef2" stroke-width="1.5"/>
<line x1="60.900000000000006" y1="502.9" x2="66.4" y2="502.9" stroke="#eceef2" stroke-width="1.5"/>
<line x1="60.900000000000006" y1="713.8" x2="66.4" y2="713.8" stroke="#eceef2" stroke-width="1.5"/>
<line x1="60.900000000000006" y1="681.2" x2="66.4" y2="681.2" stroke="#eceef2" stroke-width="1.5"/>
<line x1="60.900000000000006" y1="648.7" x2="66.4" y2="648.7" stroke="#eceef2" stroke-width="1.5"/>
<line x1="60.900000000000006" y1="616.2" x2="66.4" y2="616.2" stroke="#eceef2" stroke-width="1.5"/>
<line x1="60.900000000000006" y1="583.8" x2="66.4" y2="583.8" stroke="#eceef2" stroke-width="1.5"/>
<line x1="60.900000000000006" y1="551.2" x2="66.4" y2="551.2" stroke="#eceef2" stroke-width="1.5"/>
<line x1="60.900000000000006" y1="518.5" x2="66.4" y2="518.5" stroke="#eceef2" stroke-width="1.5"/>
</svg>
<div class="t" style="right:1501.80px;top:708.93px;font-size:10px;line-height:10px;font-weight:400;color:#98a2b3;letter-spacing:0px;">0</div>
<div class="t" style="right:1501.80px;top:676.34px;font-size:10px;line-height:10px;font-weight:400;color:#98a2b3;letter-spacing:0px;">200</div>
<div class="t" style="right:1501.80px;top:643.84px;font-size:10px;line-height:10px;font-weight:400;color:#98a2b3;letter-spacing:0px;">400</div>
<div class="t" style="right:1501.80px;top:611.34px;font-size:10px;line-height:10px;font-weight:400;color:#98a2b3;letter-spacing:0px;">600</div>
<div class="t" style="right:1501.80px;top:578.93px;font-size:10px;line-height:10px;font-weight:400;color:#98a2b3;letter-spacing:0px;">800</div>
<div class="t" style="right:1501.80px;top:546.34px;font-size:10px;line-height:10px;font-weight:400;color:#98a2b3;letter-spacing:0px;">1,000</div>
<div class="t" style="right:1501.80px;top:513.63px;font-size:10px;line-height:10px;font-weight:400;color:#98a2b3;letter-spacing:0px;">1,200</div>
<svg width="1560" height="772">
<line x1="61" y1="713.9" x2="370.6" y2="713.9" stroke="#eceef2" stroke-width="1.5"/>
<line x1="66.7" y1="713.9" x2="66.7" y2="719.1" stroke="#eceef2" stroke-width="1.5"/>
<line x1="91.4" y1="713.9" x2="91.4" y2="719.1" stroke="#eceef2" stroke-width="1.5"/>
<line x1="128.3" y1="713.9" x2="128.3" y2="719.1" stroke="#eceef2" stroke-width="1.5"/>
<line x1="165.4" y1="713.9" x2="165.4" y2="719.1" stroke="#eceef2" stroke-width="1.5"/>
<line x1="202.3" y1="713.9" x2="202.3" y2="719.1" stroke="#eceef2" stroke-width="1.5"/>
<line x1="239.5" y1="713.9" x2="239.5" y2="719.1" stroke="#eceef2" stroke-width="1.5"/>
<line x1="276.6" y1="713.9" x2="276.6" y2="719.1" stroke="#eceef2" stroke-width="1.5"/>
<line x1="313.7" y1="713.9" x2="313.7" y2="719.1" stroke="#eceef2" stroke-width="1.5"/>
<line x1="350.8" y1="713.9" x2="350.8" y2="719.1" stroke="#eceef2" stroke-width="1.5"/>
<line x1="370.6" y1="713.9" x2="370.6" y2="719.1" stroke="#eceef2" stroke-width="1.5"/>
</svg>
<div class="t" style="left:-208.60px;width:600px;text-align:center;top:721.53px;font-size:10px;line-height:10px;font-weight:400;color:#98a2b3;letter-spacing:0px;">12:00</div>
<div class="t" style="left:-171.70px;width:600px;text-align:center;top:721.53px;font-size:10px;line-height:10px;font-weight:400;color:#98a2b3;letter-spacing:0px;">15:00</div>
<div class="t" style="left:-134.60px;width:600px;text-align:center;top:721.53px;font-size:10px;line-height:10px;font-weight:400;color:#98a2b3;letter-spacing:0px;">18:00</div>
<div class="t" style="left:-97.70px;width:600px;text-align:center;top:721.53px;font-size:10px;line-height:10px;font-weight:400;color:#98a2b3;letter-spacing:0px;">21:00</div>
<div class="t" style="left:-60.50px;width:600px;text-align:center;top:721.53px;font-size:10px;line-height:10px;font-weight:400;color:#98a2b3;letter-spacing:0px;">00:00</div>
<div class="t" style="left:-23.40px;width:600px;text-align:center;top:721.53px;font-size:10px;line-height:10px;font-weight:400;color:#98a2b3;letter-spacing:0px;">03:00</div>
<div class="t" style="left:13.70px;width:600px;text-align:center;top:721.53px;font-size:10px;line-height:10px;font-weight:400;color:#98a2b3;letter-spacing:0px;">06:00</div>
<div class="t" style="left:50.80px;width:600px;text-align:center;top:721.53px;font-size:10px;line-height:10px;font-weight:400;color:#98a2b3;letter-spacing:0px;">09:00</div>
<div class="t" style="left:-80.89999999999999px;top:602.65px;width:200px;height:11.5px;line-height:11.5px;text-align:center;font-size:11.5px;font-weight:700;color:#a9b1c0;transform:rotate(-90deg);letter-spacing:-0.15px">Count</div>
<div class="t" style="left:-81.70px;width:600px;text-align:center;top:734.88px;font-size:11.6px;line-height:11.6px;font-weight:700;color:#a9b1c0;letter-spacing:0px;">Time</div>
<svg width="1560" height="772">
<circle cx="382.8" cy="505.10" r="5.6" fill="#4351bf"/>
<circle cx="382.8" cy="527.40" r="5.6" fill="#bf5340"/>
<circle cx="382.8" cy="549.70" r="5.6" fill="#40adbf"/>
<circle cx="382.8" cy="572.00" r="5.6" fill="#7fbf40"/>
<circle cx="382.8" cy="594.30" r="5.6" fill="#9a40bf"/>
<circle cx="382.8" cy="616.60" r="5.6" fill="#bf40b0"/>
<circle cx="382.8" cy="638.90" r="5.6" fill="#40bf53"/>
<circle cx="382.8" cy="661.20" r="5.6" fill="#bfa040"/>
<circle cx="382.8" cy="683.50" r="5.6" fill="#406fbf"/>
<circle cx="382.8" cy="705.80" r="5.6" fill="#bf4052"/>
</svg>
<div class="t" style="left:394.50px;top:499.84px;font-size:12px;line-height:12px;font-weight:400;color:#e0e6ee;letter-spacing:-0.1px;">443</div>
<div class="t" style="left:394.50px;top:522.14px;font-size:12px;line-height:12px;font-weight:400;color:#e0e6ee;letter-spacing:-0.1px;">80</div>
<div class="t" style="left:394.50px;top:544.44px;font-size:12px;line-height:12px;font-weight:400;color:#e0e6ee;letter-spacing:-0.1px;">5678</div>
<div class="t" style="left:394.50px;top:566.74px;font-size:12px;line-height:12px;font-weight:400;color:#e0e6ee;letter-spacing:-0.1px;">5223</div>
<div class="t" style="left:394.50px;top:589.04px;font-size:12px;line-height:12px;font-weight:400;color:#e0e6ee;letter-spacing:-0.1px;">993</div>
<div class="t" style="left:394.50px;top:611.34px;font-size:12px;line-height:12px;font-weight:400;color:#e0e6ee;letter-spacing:-0.1px;">5228</div>
<div class="t" style="left:394.50px;top:633.64px;font-size:12px;line-height:12px;font-weight:400;color:#e0e6ee;letter-spacing:-0.1px;">4070</div>
<div class="t" style="left:394.50px;top:655.94px;font-size:12px;line-height:12px;font-weight:400;color:#e0e6ee;letter-spacing:-0.1px;">42580</div>
<div class="t" style="left:394.50px;top:678.24px;font-size:12px;line-height:12px;font-weight:400;color:#e0e6ee;letter-spacing:-0.1px;">5222</div>
<div class="t" style="left:394.50px;top:700.54px;font-size:12px;line-height:12px;font-weight:400;color:#e0e6ee;letter-spacing:-0.1px;">38808</div>
<div style="position:absolute;left:887.7px;top:502.8px;width:3.3px;height:210.5px;background:#38393d;"></div>
<svg width="1560" height="772">
<rect x="579.40" y="706.18" width="5.4" height="7.02" fill="#57c17b"/>
<rect x="592.39" y="685.12" width="5.4" height="28.08" fill="#57c17b"/>
<rect x="605.38" y="699.16" width="5.4" height="14.04" fill="#57c17b"/>
<rect x="611.88" y="664.06" width="5.4" height="49.14" fill="#57c17b"/>
<rect x="624.87" y="692.14" width="5.4" height="21.06" fill="#57c17b"/>
<rect x="624.87" y="657.04" width="5.4" height="35.10" fill="#6f87d8"/>
<rect x="624.87" y="643.00" width="5.4" height="14.04" fill="#bc52bc"/>
<rect x="631.37" y="551.74" width="5.4" height="161.46" fill="#57c17b"/>
<rect x="631.37" y="530.68" width="5.4" height="21.06" fill="#9e3533"/>
<rect x="637.86" y="664.06" width="5.4" height="49.14" fill="#57c17b"/>
<rect x="637.86" y="650.02" width="5.4" height="14.04" fill="#6f87d8"/>
<rect x="637.86" y="643.00" width="5.4" height="7.02" fill="#663db8"/>
<rect x="644.36" y="671.08" width="5.4" height="42.12" fill="#57c17b"/>
<rect x="650.86" y="650.02" width="5.4" height="63.18" fill="#57c17b"/>
<rect x="657.35" y="628.96" width="5.4" height="84.24" fill="#57c17b"/>
<rect x="657.35" y="607.90" width="5.4" height="21.06" fill="#6f87d8"/>
<rect x="657.35" y="572.80" width="5.4" height="35.10" fill="#bc52bc"/>
<rect x="657.35" y="565.78" width="5.4" height="7.02" fill="#663db8"/>
<rect x="663.85" y="664.06" width="5.4" height="49.14" fill="#57c17b"/>
<rect x="663.85" y="657.04" width="5.4" height="7.02" fill="#6f87d8"/>
<rect x="670.34" y="657.04" width="5.4" height="56.16" fill="#57c17b"/>
<rect x="670.34" y="643.00" width="5.4" height="14.04" fill="#663db8"/>
<rect x="676.84" y="692.14" width="5.4" height="21.06" fill="#57c17b"/>
<rect x="676.84" y="685.12" width="5.4" height="7.02" fill="#663db8"/>
<rect x="676.84" y="671.08" width="5.4" height="14.04" fill="#daa05d"/>
<rect x="683.34" y="516.64" width="5.4" height="196.56" fill="#57c17b"/>
<rect x="683.34" y="509.62" width="5.4" height="7.02" fill="#663db8"/>
<rect x="683.34" y="502.60" width="5.4" height="7.02" fill="#bfaf40"/>
<rect x="689.83" y="650.02" width="5.4" height="63.18" fill="#57c17b"/>
<rect x="696.33" y="706.18" width="5.4" height="7.02" fill="#57c17b"/>
<rect x="696.33" y="699.16" width="5.4" height="7.02" fill="#663db8"/>
<rect x="696.33" y="692.14" width="5.4" height="7.02" fill="#bfaf40"/>
<rect x="702.82" y="699.16" width="5.4" height="14.04" fill="#57c17b"/>
<rect x="709.32" y="671.08" width="5.4" height="42.12" fill="#57c17b"/>
<rect x="715.82" y="706.18" width="5.4" height="7.02" fill="#663db8"/>
<rect x="722.31" y="685.12" width="5.4" height="28.08" fill="#57c17b"/>
<rect x="728.81" y="643.00" width="5.4" height="70.20" fill="#57c17b"/>
<rect x="728.81" y="635.98" width="5.4" height="7.02" fill="#6f87d8"/>
<rect x="735.30" y="685.12" width="5.4" height="28.08" fill="#57c17b"/>
<rect x="735.30" y="678.10" width="5.4" height="7.02" fill="#663db8"/>
<rect x="741.80" y="600.88" width="5.4" height="112.32" fill="#57c17b"/>
<rect x="741.80" y="558.76" width="5.4" height="42.12" fill="#663db8"/>
<rect x="748.30" y="678.10" width="5.4" height="35.10" fill="#57c17b"/>
<rect x="748.30" y="664.06" width="5.4" height="14.04" fill="#663db8"/>
<rect x="754.79" y="544.72" width="5.4" height="168.48" fill="#57c17b"/>
<rect x="754.79" y="530.68" width="5.4" height="14.04" fill="#6f87d8"/>
<rect x="754.79" y="523.66" width="5.4" height="7.02" fill="#bc52bc"/>
<rect x="754.79" y="516.64" width="5.4" height="7.02" fill="#663db8"/>
<rect x="761.29" y="600.88" width="5.4" height="112.32" fill="#57c17b"/>
<rect x="761.29" y="544.72" width="5.4" height="56.16" fill="#bc52bc"/>
<rect x="761.29" y="537.70" width="5.4" height="7.02" fill="#663db8"/>
<rect x="767.78" y="600.88" width="5.4" height="112.32" fill="#57c17b"/>
<rect x="767.78" y="572.80" width="5.4" height="28.08" fill="#6f87d8"/>
<rect x="767.78" y="530.68" width="5.4" height="42.12" fill="#663db8"/>
<rect x="774.28" y="579.82" width="5.4" height="133.38" fill="#57c17b"/>
<rect x="780.78" y="671.08" width="5.4" height="42.12" fill="#57c17b"/>
<rect x="787.27" y="692.14" width="5.4" height="21.06" fill="#57c17b"/>
<rect x="787.27" y="678.10" width="5.4" height="14.04" fill="#6f87d8"/>
<rect x="787.27" y="671.08" width="5.4" height="7.02" fill="#bc52bc"/>
<rect x="793.77" y="706.18" width="5.4" height="7.02" fill="#57c17b"/>
<rect x="800.26" y="692.14" width="5.4" height="21.06" fill="#57c17b"/>
<rect x="806.76" y="706.18" width="5.4" height="7.02" fill="#6f87d8"/>
<rect x="813.26" y="671.08" width="5.4" height="42.12" fill="#57c17b"/>
<rect x="813.26" y="643.00" width="5.4" height="28.08" fill="#6f87d8"/>
<rect x="819.75" y="678.10" width="5.4" height="35.10" fill="#57c17b"/>
<rect x="819.75" y="671.08" width="5.4" height="7.02" fill="#6f87d8"/>
<rect x="826.25" y="692.14" width="5.4" height="21.06" fill="#57c17b"/>
<rect x="826.25" y="685.12" width="5.4" height="7.02" fill="#6f87d8"/>
<rect x="832.74" y="664.06" width="5.4" height="49.14" fill="#57c17b"/>
<rect x="832.74" y="657.04" width="5.4" height="7.02" fill="#6f87d8"/>
<rect x="832.74" y="643.00" width="5.4" height="14.04" fill="#663db8"/>
<rect x="839.24" y="671.08" width="5.4" height="42.12" fill="#57c17b"/>
<rect x="839.24" y="664.06" width="5.4" height="7.02" fill="#6f87d8"/>
<rect x="845.74" y="628.96" width="5.4" height="84.24" fill="#57c17b"/>
<rect x="852.23" y="621.94" width="5.4" height="91.26" fill="#57c17b"/>
<rect x="858.73" y="678.10" width="5.4" height="35.10" fill="#57c17b"/>
<rect x="865.22" y="699.16" width="5.4" height="14.04" fill="#57c17b"/>
<rect x="878.22" y="699.16" width="5.4" height="14.04" fill="#57c17b"/>
<rect x="884.71" y="699.16" width="5.4" height="14.04" fill="#57c17b"/>
</svg>
<svg width="1560" height="772">
<line x1="575.4" y1="502.4" x2="575.4" y2="714.5" stroke="#eceef2" stroke-width="1.5"/>
<line x1="569.9" y1="502.9" x2="575.4" y2="502.9" stroke="#eceef2" stroke-width="1.5"/>
<line x1="569.9" y1="713.6" x2="575.4" y2="713.6" stroke="#eceef2" stroke-width="1.5"/>
<line x1="569.9" y1="678.3" x2="575.4" y2="678.3" stroke="#eceef2" stroke-width="1.5"/>
<line x1="569.9" y1="643.1" x2="575.4" y2="643.1" stroke="#eceef2" stroke-width="1.5"/>
<line x1="569.9" y1="608" x2="575.4" y2="608" stroke="#eceef2" stroke-width="1.5"/>
<line x1="569.9" y1="572.8" x2="575.4" y2="572.8" stroke="#eceef2" stroke-width="1.5"/>
<line x1="569.9" y1="537.8" x2="575.4" y2="537.8" stroke="#eceef2" stroke-width="1.5"/>
<line x1="569.9" y1="503" x2="575.4" y2="503" stroke="#eceef2" stroke-width="1.5"/>
</svg>
<div class="t" style="right:994.40px;top:708.74px;font-size:10px;line-height:10px;font-weight:400;color:#98a2b3;letter-spacing:0px;">0</div>
<div class="t" style="right:994.40px;top:673.43px;font-size:10px;line-height:10px;font-weight:400;color:#98a2b3;letter-spacing:0px;">5</div>
<div class="t" style="right:994.40px;top:638.24px;font-size:10px;line-height:10px;font-weight:400;color:#98a2b3;letter-spacing:0px;">10</div>
<div class="t" style="right:994.40px;top:603.13px;font-size:10px;line-height:10px;font-weight:400;color:#98a2b3;letter-spacing:0px;">15</div>
<div class="t" style="right:994.40px;top:567.93px;font-size:10px;line-height:10px;font-weight:400;color:#98a2b3;letter-spacing:0px;">20</div>
<div class="t" style="right:994.40px;top:532.93px;font-size:10px;line-height:10px;font-weight:400;color:#98a2b3;letter-spacing:0px;">25</div>
<div class="t" style="right:994.40px;top:498.14px;font-size:10px;line-height:10px;font-weight:400;color:#98a2b3;letter-spacing:0px;">30</div>
<svg width="1560" height="772">
<line x1="570" y1="713.9" x2="891.4" y2="713.9" stroke="#eceef2" stroke-width="1.5"/>
<line x1="575.4" y1="713.9" x2="575.4" y2="719.1" stroke="#eceef2" stroke-width="1.5"/>
<line x1="598.8" y1="713.9" x2="598.8" y2="719.1" stroke="#eceef2" stroke-width="1.5"/>
<line x1="637.8" y1="713.9" x2="637.8" y2="719.1" stroke="#eceef2" stroke-width="1.5"/>
<line x1="676.8" y1="713.9" x2="676.8" y2="719.1" stroke="#eceef2" stroke-width="1.5"/>
<line x1="715.8" y1="713.9" x2="715.8" y2="719.1" stroke="#eceef2" stroke-width="1.5"/>
<line x1="754.8" y1="713.9" x2="754.8" y2="719.1" stroke="#eceef2" stroke-width="1.5"/>
<line x1="793.8" y1="713.9" x2="793.8" y2="719.1" stroke="#eceef2" stroke-width="1.5"/>
<line x1="832.8" y1="713.9" x2="832.8" y2="719.1" stroke="#eceef2" stroke-width="1.5"/>
<line x1="871.8" y1="713.9" x2="871.8" y2="719.1" stroke="#eceef2" stroke-width="1.5"/>
<line x1="891.3" y1="713.9" x2="891.3" y2="719.1" stroke="#eceef2" stroke-width="1.5"/>
</svg>
<div class="t" style="left:298.80px;width:600px;text-align:center;top:721.53px;font-size:10px;line-height:10px;font-weight:400;color:#98a2b3;letter-spacing:0px;">12:00</div>
<div class="t" style="left:337.80px;width:600px;text-align:center;top:721.53px;font-size:10px;line-height:10px;font-weight:400;color:#98a2b3;letter-spacing:0px;">15:00</div>
<div class="t" style="left:376.80px;width:600px;text-align:center;top:721.53px;font-size:10px;line-height:10px;font-weight:400;color:#98a2b3;letter-spacing:0px;">18:00</div>
<div class="t" style="left:415.80px;width:600px;text-align:center;top:721.53px;font-size:10px;line-height:10px;font-weight:400;color:#98a2b3;letter-spacing:0px;">21:00</div>
<div class="t" style="left:454.80px;width:600px;text-align:center;top:721.53px;font-size:10px;line-height:10px;font-weight:400;color:#98a2b3;letter-spacing:0px;">00:00</div>
<div class="t" style="left:493.80px;width:600px;text-align:center;top:721.53px;font-size:10px;line-height:10px;font-weight:400;color:#98a2b3;letter-spacing:0px;">03:00</div>
<div class="t" style="left:532.80px;width:600px;text-align:center;top:721.53px;font-size:10px;line-height:10px;font-weight:400;color:#98a2b3;letter-spacing:0px;">06:00</div>
<div class="t" style="left:571.80px;width:600px;text-align:center;top:721.53px;font-size:10px;line-height:10px;font-weight:400;color:#98a2b3;letter-spacing:0px;">09:00</div>
<div class="t" style="left:440.29999999999995px;top:602.35px;width:200px;height:11.5px;line-height:11.5px;text-align:center;font-size:11.5px;font-weight:700;color:#a9b1c0;transform:rotate(-90deg);letter-spacing:-0.15px">Count</div>
<div class="t" style="left:433.50px;width:600px;text-align:center;top:734.88px;font-size:11.6px;line-height:11.6px;font-weight:700;color:#a9b1c0;letter-spacing:-0.04px;">@timestamp per 30 minutes</div>
<svg width="1560" height="772">
<circle cx="904.1" cy="504.50" r="5.6" fill="#57c17b"/>
<circle cx="904.1" cy="526.90" r="5.6" fill="#6f87d8"/>
<circle cx="904.1" cy="549.30" r="5.6" fill="#bc52bc"/>
<circle cx="904.1" cy="571.70" r="5.6" fill="#9e3533"/>
<circle cx="904.1" cy="594.10" r="5.6" fill="#663db8"/>
<circle cx="904.1" cy="616.50" r="5.6" fill="#daa05d"/>
<circle cx="904.1" cy="638.90" r="5.6" fill="#bfaf40"/>
</svg>
<div class="t" style="left:915.80px;top:499.24px;font-size:12px;line-height:12px;font-weight:400;color:#e0e6ee;letter-spacing:-0.1px;">United States</div>
<div class="t" style="left:915.80px;top:521.64px;font-size:12px;line-height:12px;font-weight:400;color:#e0e6ee;letter-spacing:-0.1px;">Netherlands</div>
<div class="t" style="left:915.80px;top:544.04px;font-size:12px;line-height:12px;font-weight:400;color:#e0e6ee;letter-spacing:-0.1px;">United Kingdom</div>
<div class="t" style="left:915.80px;top:566.44px;font-size:12px;line-height:12px;font-weight:400;color:#e0e6ee;letter-spacing:-0.1px;">Ireland</div>
<div class="t" style="left:915.80px;top:588.84px;font-size:12px;line-height:12px;font-weight:400;color:#e0e6ee;letter-spacing:-0.1px;">Germany</div>
<div class="t" style="left:915.80px;top:611.24px;font-size:12px;line-height:12px;font-weight:400;color:#e0e6ee;letter-spacing:-0.1px;">Greece</div>
<div class="t" style="left:915.80px;top:633.64px;font-size:12px;line-height:12px;font-weight:400;color:#e0e6ee;letter-spacing:-0.1px;">Japan</div>
<svg width="1560" height="772">
<rect x="1102.4" y="511.9" width="40.4" height="135.30" fill="#00a69e"/>
<rect x="1147.6" y="635.7" width="40.2" height="11.50" fill="#00a69e"/>
<rect x="1192.4" y="636.1" width="40.2" height="11.10" fill="#00a69e"/>
<rect x="1237.5" y="640.7" width="40.3" height="6.50" fill="#00a69e"/>
<rect x="1282.3" y="645.8" width="40.2" height="1.40" fill="#00a69e"/>
<rect x="1327.3" y="646.9" width="40.2" height="0.30" fill="#00a69e"/>
</svg>
<svg width="1560" height="772">
<line x1="1102.5" y1="502.4" x2="1102.5" y2="648.5" stroke="#eceef2" stroke-width="1.5"/>
<line x1="1097.0" y1="502.9" x2="1102.5" y2="502.9" stroke="#eceef2" stroke-width="1.5"/>
<line x1="1097.0" y1="647.6" x2="1102.5" y2="647.6" stroke="#eceef2" stroke-width="1.5"/>
<line x1="1097.0" y1="606.1" x2="1102.5" y2="606.1" stroke="#eceef2" stroke-width="1.5"/>
<line x1="1097.0" y1="564.7" x2="1102.5" y2="564.7" stroke="#eceef2" stroke-width="1.5"/>
<line x1="1097.0" y1="523.3" x2="1102.5" y2="523.3" stroke="#eceef2" stroke-width="1.5"/>
</svg>
<div class="t" style="right:465.70px;top:642.74px;font-size:10px;line-height:10px;font-weight:400;color:#98a2b3;letter-spacing:0px;">0</div>
<div class="t" style="right:465.70px;top:601.24px;font-size:10px;line-height:10px;font-weight:400;color:#98a2b3;letter-spacing:0px;">100</div>
<div class="t" style="right:465.70px;top:559.84px;font-size:10px;line-height:10px;font-weight:400;color:#98a2b3;letter-spacing:0px;">200</div>
<div class="t" style="right:465.70px;top:518.43px;font-size:10px;line-height:10px;font-weight:400;color:#98a2b3;letter-spacing:0px;">300</div>
<svg width="1560" height="772">
<line x1="1096.6" y1="647.8" x2="1412.9" y2="647.8" stroke="#eceef2" stroke-width="1.5"/>
<line x1="1102.3" y1="647.8" x2="1102.3" y2="653.0" stroke="#eceef2" stroke-width="1.5"/>
<line x1="1122.4" y1="647.8" x2="1122.4" y2="653.0" stroke="#eceef2" stroke-width="1.5"/>
<line x1="1167.7" y1="647.8" x2="1167.7" y2="653.0" stroke="#eceef2" stroke-width="1.5"/>
<line x1="1212.6" y1="647.8" x2="1212.6" y2="653.0" stroke="#eceef2" stroke-width="1.5"/>
<line x1="1257.5" y1="647.8" x2="1257.5" y2="653.0" stroke="#eceef2" stroke-width="1.5"/>
<line x1="1302.4" y1="647.8" x2="1302.4" y2="653.0" stroke="#eceef2" stroke-width="1.5"/>
<line x1="1347.5" y1="647.8" x2="1347.5" y2="653.0" stroke="#eceef2" stroke-width="1.5"/>
<line x1="1392.5" y1="647.8" x2="1392.5" y2="653.0" stroke="#eceef2" stroke-width="1.5"/>
<line x1="1412.9" y1="647.8" x2="1412.9" y2="653.0" stroke="#eceef2" stroke-width="1.5"/>
</svg>
<div class="t" style="left:822.4000000000001px;top:650.55px;width:300px;height:10.9px;line-height:10.9px;text-align:right;font-size:10.9px;color:#98a2b3;letter-spacing:-0.1px;transform-origin:300px 50%;transform:rotate(-90deg)">United States</div>
<div class="t" style="left:867.7px;top:650.55px;width:300px;height:10.9px;line-height:10.9px;text-align:right;font-size:10.9px;color:#98a2b3;letter-spacing:-0.1px;transform-origin:300px 50%;transform:rotate(-90deg)">Netherlands</div>
<div class="t" style="left:912.5999999999999px;top:650.55px;width:300px;height:10.9px;line-height:10.9px;text-align:right;font-size:10.9px;color:#98a2b3;letter-spacing:-0.1px;transform-origin:300px 50%;transform:rotate(-90deg)">Germany</div>
<div class="t" style="left:957.5px;top:650.55px;width:300px;height:10.9px;line-height:10.9px;text-align:right;font-size:10.9px;color:#98a2b3;letter-spacing:-0.1px;transform-origin:300px 50%;transform:rotate(-90deg)">United Kingdom</div>
<div class="t" style="left:1002.4000000000001px;top:650.55px;width:300px;height:10.9px;line-height:10.9px;text-align:right;font-size:10.9px;color:#98a2b3;letter-spacing:-0.1px;transform-origin:300px 50%;transform:rotate(-90deg)">Ireland</div>
<div class="t" style="left:1047.5px;top:650.55px;width:300px;height:10.9px;line-height:10.9px;text-align:right;font-size:10.9px;color:#98a2b3;letter-spacing:-0.1px;transform-origin:300px 50%;transform:rotate(-90deg)">Greece</div>
<div class="t" style="left:1092.5px;top:650.55px;width:300px;height:10.9px;line-height:10.9px;text-align:right;font-size:10.9px;color:#98a2b3;letter-spacing:-0.1px;transform-origin:300px 50%;transform:rotate(-90deg)">Japan</div>
<div class="t" style="left:960.6999999999999px;top:569.65px;width:200px;height:11.5px;line-height:11.5px;text-align:center;font-size:11.5px;font-weight:700;color:#a9b1c0;transform:rotate(-90deg);letter-spacing:-0.15px">Count</div>
<div class="t" style="left:957.70px;width:600px;text-align:center;top:734.88px;font-size:11.6px;line-height:11.6px;font-weight:700;color:#a9b1c0;letter-spacing:0px;">Countries</div>
<svg width="1560" height="772">
<circle cx="1425.2" cy="505.10" r="5.6" fill="#00a69e"/>
</svg>
<div class="t" style="left:1436.90px;top:499.84px;font-size:12px;line-height:12px;font-weight:400;color:#e0e6ee;letter-spacing:-0.1px;">Count</div>
<svg width="1560" height="772">
<circle cx="1539.8" cy="734" r="28" fill="#b8001e"/>
<circle cx="1540" cy="733.4" r="13" fill="#fff"/>
<path d="M1533 744 L1535.2 748.2 L1543 744.5 Z" fill="#fff"/>
<path d="M1538.8 738.6 Q1543.6 743 1548.4 738.6 Z" fill="#b8001e"/>
</svg>
</body></html>
